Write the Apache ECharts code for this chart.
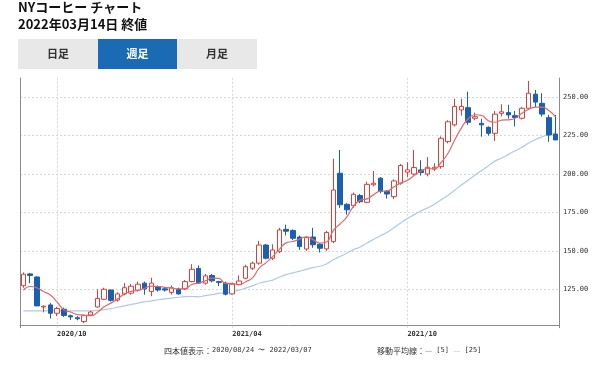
<!DOCTYPE html>
<html><head><meta charset="utf-8">
<script src="https://cdn.jsdelivr.net/npm/echarts@6/dist/echarts.min.js"></script>
<style>html,body{margin:0;padding:0;background:#fff}#c{width:600px;height:371px}</style>
</head><body><div id="c"></div>
<script>
const categories = [
 '2020/08/24','2020/08/31','2020/09/07','2020/09/14','2020/09/21','2020/09/28','2020/10/05','2020/10/12','2020/10/19','2020/10/26',
 '2020/11/02','2020/11/09','2020/11/16','2020/11/23','2020/11/30','2020/12/07','2020/12/14','2020/12/21','2020/12/28','2021/01/04',
 '2021/01/11','2021/01/18','2021/01/25','2021/02/01','2021/02/08','2021/02/15','2021/02/22','2021/03/01','2021/03/08','2021/03/15',
 '2021/03/22','2021/03/29','2021/04/05','2021/04/12','2021/04/19','2021/04/26','2021/05/03','2021/05/10','2021/05/17','2021/05/24',
 '2021/05/31','2021/06/07','2021/06/14','2021/06/21','2021/06/28','2021/07/05','2021/07/12','2021/07/19','2021/07/26','2021/08/02',
 '2021/08/09','2021/08/16','2021/08/23','2021/08/30','2021/09/06','2021/09/13','2021/09/20','2021/09/27','2021/10/04','2021/10/11',
 '2021/10/18','2021/10/25','2021/11/01','2021/11/08','2021/11/15','2021/11/22','2021/11/29','2021/12/06','2021/12/13','2021/12/20',
 '2021/12/27','2022/01/03','2022/01/10','2022/01/17','2022/01/24','2022/01/31','2022/02/07','2022/02/14','2022/02/21','2022/02/28'
];
const openVals = [
 127.3,135,133,113.5,114.8,109.4,112,107.8,106.5,104,
 108.3,113.5,118.5,124.5,118,122,122.5,124.5,129,123.5,
 126.7,125.3,123,125.2,125.2,130,138.5,129,134,130,
 129,122,128,132.2,138.7,142,153.8,145.2,149.5,164,
 163.2,159,151.2,159,154.3,151.3,156,200.5,180.3,179.4,
 186,181.6,193,197.3,188.6,185.3,194,201.2,200,202.7,
 200,203.3,204.8,221.1,232,241.7,243.2,236.3,233,230.4,
 226.5,239.5,240,238,236.3,242.8,252,246,236.7,226
];
const closeVals = [
 134.8,134,114.2,114,109.4,112.5,108,107,105.8,107.8,
 110.2,119,125,117.8,122,126,127,128.3,125.2,129,
 124.5,124.5,126,122,130,138,129,133.7,130.5,129.5,
 121.8,128.3,130.4,139.7,142,153.8,145.2,150.6,163.6,162.8,
 158.2,152.8,158.6,154,151.7,162,189.6,180,176.7,186.8,
 182,193.3,194,188.6,187,195.5,205.5,202.7,204.2,201,
 204.4,204.4,223.3,234,244,244,233.7,237.3,232,226.5,
 239,240.5,238.5,236.8,242.8,252.6,246.8,239,225.4,222.2
];
const lowVals = [
 126,129,114,110,106,107.5,107,105,104.8,103,
 107.5,113,118,117,117,121,121.5,123.5,121.5,120.5,
 123.5,123.5,121.5,121.5,124.5,129.5,128.5,128,129.5,127,
 121,121.5,127.5,131.5,137.5,141,144.5,144,148.5,160,
 157,150.6,150,152,149,150,155,178,173.5,178,
 181,181,192,187.5,184,183.7,193,198,199.5,199,
 198.5,202,203.5,220,231,238,232,235,224.3,225,
 221.5,237.5,236,231,235.5,242,243.5,237.4,221,222
];
const highVals = [
 136,135.5,133.5,114.5,116,113.5,113,108.5,107.5,108.5,
 111,125,126,125,123,129,128.5,130,130,132.5,
 127.5,126.5,127.5,126,131,141.3,140.5,135,135,130.5,
 130,129,134,141,143,156.5,154.5,154.3,165,167,
 164,160,159.5,165,155,163,210,215.7,181,188,
 187,195,202,198,189.5,196.5,206.5,207.7,215.7,209,
 211,207,224.5,235,249,249,253.6,240,236,231,
 241,245.4,245,241,243.5,260.6,254.7,252.6,238.5,238.5
];
const ma5Vals = [
 124.5,126.8,126,123.5,121.3,116.8,111.6,110.2,108.5,108.2,
 107.8,110,113.6,116,118.8,122,123.6,124.2,125.7,127.1,
 126.8,126.3,125.8,125.2,125.4,128.1,129,130.5,132.2,132.1,
 128.9,128.8,128.1,129.9,132.4,138.8,142.2,146.3,151,155.2,
 156.1,157.6,159.2,157.3,155.1,155.8,163.2,167.5,172,179,
 183,183.8,186.6,188.9,189,191.7,194.1,195.9,199,201.8,
 203.6,203.3,207.5,213.4,222,229.9,235.8,238.6,238.2,234.7,
 233.7,235.1,235.3,236.3,239.5,242.2,243.5,243.6,241.3,237.2
];
const ma25Vals = [
 110.9,110.9,110.9,110.9,110.9,110.9,110.9,110.9,110.9,110.9,
 111,111.3,111.8,112.5,113.3,114.2,115.1,116,116.8,117.5,
 118.2,118.8,119.3,119.8,120.2,120.3,120.1,120.9,121.5,122.3,
 122.7,123.5,124.5,125.8,127.2,128.9,130,131,132.8,134.5,
 135.7,136.8,138,139.1,140,141.5,144.2,146.3,148.5,150.8,
 152.5,155.1,157.5,159.8,162.1,165.1,168.2,171.1,173.6,176,
 178,180.4,183.3,186.1,189.4,192.8,196,199.2,202.3,205.3,
 208.4,210.4,212.8,215.2,217.4,220.2,222.4,224.2,225.6,227
];
const tickIndex = [5, 31, 57];
const tickLabels = ['2020/10', '2021/04', '2021/10'];
const yTicks = [125, 150, 175, 200, 225, 250];

const UP = '#d8403c', DOWN = '#1a5fb0';
const chart = echarts.init(document.getElementById('c'));
const candleData = categories.map((c, i) => [openVals[i], closeVals[i], lowVals[i], highVals[i]]);
const grid = '#d3d8e0';
const mono = 'DejaVu Sans Mono';
const jp = '"Noto Sans CJK JP", sans-serif';

const option = {
  animation: false,
  grid: { left: 20, right: 41, top: 78, bottom: 43.3 },
  xAxis: {
    type: 'category', data: categories, boundaryGap: true, offset: -2.7,
    axisLine: { lineStyle: { color: '#8a8a8a', width: 1 } },
    axisTick: { show: false },
    splitLine: { show: false },
    axisLabel: {
      interval: (i) => tickIndex.includes(i),
      formatter: (v, i) => { const k = tickIndex.indexOf(i); return k >= 0 ? tickLabels[k] : ''; },
      align: 'left', fontFamily: mono, fontSize: 7, fontWeight: 'bold', color: '#333', margin: 6
    }
  },
  yAxis: [{
    type: 'value', position: 'right', min: 100, max: 262.5, interval: 25,
    axisLine: { show: true, lineStyle: { color: '#8a8a8a' } },
    axisTick: { show: false },
    axisLabel: {
      showMinLabel: false, showMaxLabel: false,
      formatter: v => yTicks.includes(v) ? v.toFixed(2) : '',
      fontFamily: mono, fontSize: 7, color: '#333', margin: 4
    },
    splitLine: { show: true, showMinLine: false, showMaxLine: false, lineStyle: { color: grid, type: [2, 2] } }
  }, {
    type: 'value', position: 'left', min: 100, max: 262.5, interval: 25,
    axisLine: { show: true, lineStyle: { color: '#8a8a8a' } },
    axisTick: { show: false }, axisLabel: { show: false }, splitLine: { show: false }
  }],
  series: [{
    type: 'candlestick', data: candleData, barWidth: 5, z: 3,
    itemStyle: { color: '#ffffff', color0: DOWN, borderColor: UP, borderColor0: DOWN, borderWidth: 1 },
    markLine: {
      silent: true, symbol: ['none', 'none'], label: { show: false }, z: 1,
      lineStyle: { color: grid, type: [2, 2], width: 1 },
      data: tickIndex.map(i => ({ xAxis: categories[i] }))
    }
  }, {
    type: 'line', data: ma5Vals, smooth: true, symbol: 'none', z: 4,
    lineStyle: { color: '#e06a6a', width: 1.2 }
  }, {
    type: 'line', data: ma25Vals, smooth: true, symbol: 'none', z: 2,
    lineStyle: { color: '#aecbe6', width: 1.2 }
  }],
  graphic: [
    { type: 'text', left: 18, top: 1, style: { text: 'NYコーヒー チャート', font: 'bold 13px ' + jp, fill: '#111' } },
    { type: 'text', left: 18, top: 18, style: { text: '2022年03月14日 終値', font: 'bold 13px ' + jp, fill: '#111' } },
    { type: 'rect', left: 18, top: 39, shape: { width: 80, height: 30 }, style: { fill: '#e8e8e8' } },
    { type: 'rect', left: 98, top: 39, shape: { width: 79, height: 30 }, style: { fill: '#1a6ab4' } },
    { type: 'rect', left: 177, top: 39, shape: { width: 80, height: 30 }, style: { fill: '#e8e8e8' } },
    { type: 'text', x: 58, y: 54, style: { text: '日足', font: 'bold 11px ' + jp, fill: '#333', align: 'center', verticalAlign: 'middle' } },
    { type: 'text', x: 137.5, y: 54, style: { text: '週足', font: 'bold 11px ' + jp, fill: '#fff', align: 'center', verticalAlign: 'middle' } },
    { type: 'text', x: 217, y: 54, style: { text: '月足', font: 'bold 11px ' + jp, fill: '#333', align: 'center', verticalAlign: 'middle' } },
    { type: 'text', x: 164, y: 350.5, style: {
      text: '{a|四本値表示：}{b|2020/08/24 〜 2022/03/07}', verticalAlign: 'middle',
      rich: { a: { font: '8px ' + jp, fill: '#333' }, b: { font: '7px ' + mono, fill: '#333' } } } },
    { type: 'text', x: 377, y: 350.5, style: {
      text: '{a|移動平均線：}{r|—}{b| [5] }{l|—}{b| [25]}', verticalAlign: 'middle',
      rich: { a: { font: '8px ' + jp, fill: '#333' }, b: { font: '7px ' + mono, fill: '#333' },
              r: { font: '8px ' + jp, fill: '#e06a6a' }, l: { font: '8px ' + jp, fill: '#aecbe6' } } } }
  ]
};
chart.setOption(option);
</script></body></html>
